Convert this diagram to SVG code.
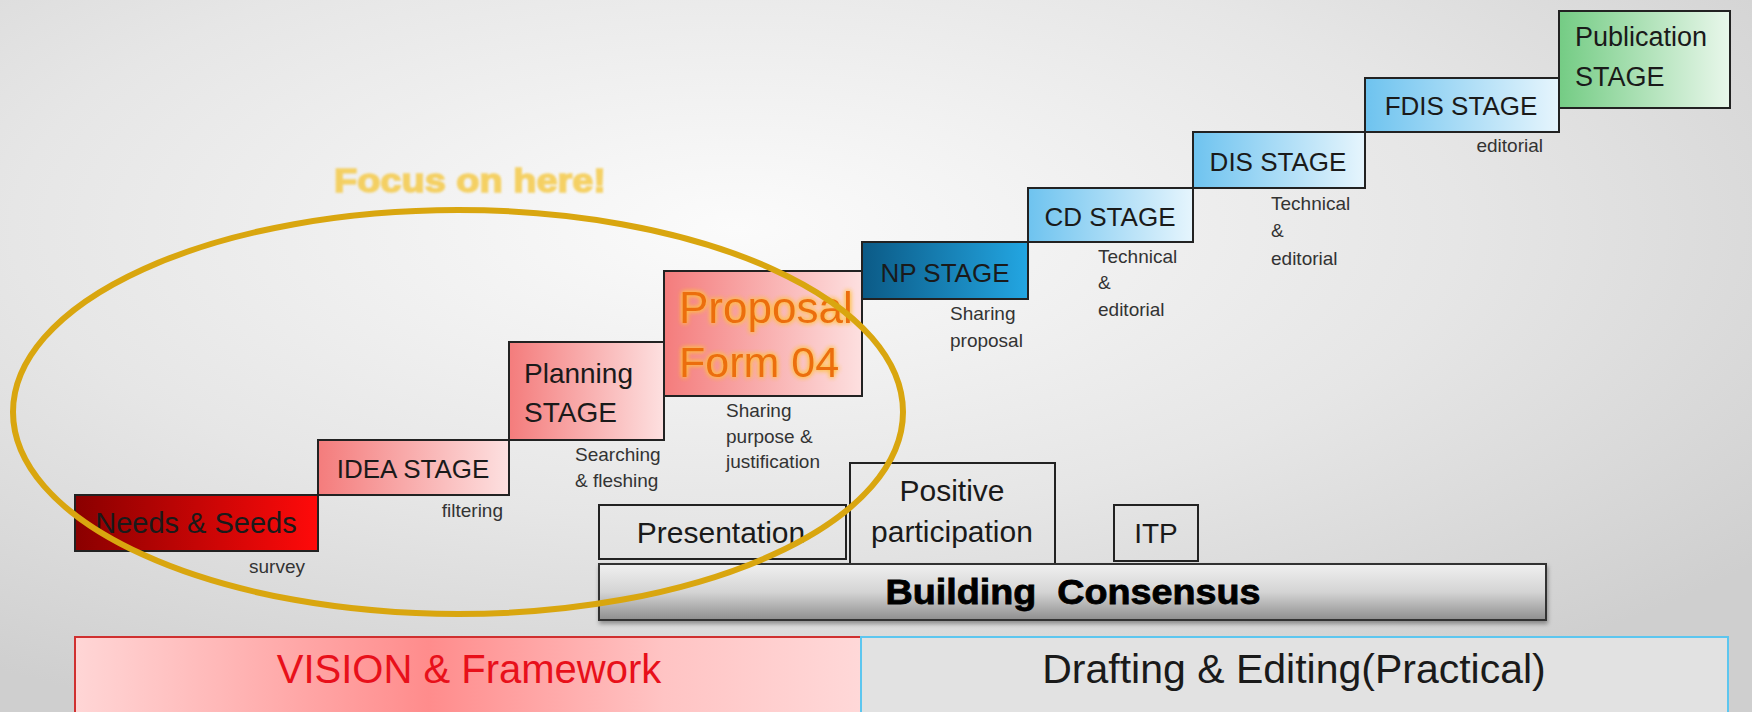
<svg xmlns="http://www.w3.org/2000/svg" width="1752" height="712" viewBox="0 0 1752 712">
<defs>
<radialGradient id="bg" cx="0.42" cy="0.32" r="0.75">
<stop offset="0" stop-color="#fbfbfb"/>
<stop offset="0.55" stop-color="#e6e6e6"/>
<stop offset="1" stop-color="#cfcfcf"/>
</radialGradient>
<linearGradient id="gNeeds" x1="0" y1="0" x2="1" y2="0">
<stop offset="0" stop-color="#8a0000"/>
<stop offset="1" stop-color="#ff0a0a"/>
</linearGradient>
<linearGradient id="gPink" x1="0" y1="0" x2="1" y2="0">
<stop offset="0" stop-color="#f47c7c"/>
<stop offset="1" stop-color="#fde0e0"/>
</linearGradient>
<linearGradient id="gNP" x1="0" y1="0" x2="1" y2="0">
<stop offset="0" stop-color="#0b5a86"/>
<stop offset="1" stop-color="#23a6e2"/>
</linearGradient>
<linearGradient id="gBlue" x1="0" y1="0" x2="1" y2="0">
<stop offset="0" stop-color="#6ec3ef"/>
<stop offset="1" stop-color="#e6f5fd"/>
</linearGradient>
<linearGradient id="gGreen" x1="0" y1="0" x2="1" y2="0">
<stop offset="0" stop-color="#74cc84"/>
<stop offset="1" stop-color="#e9f7eb"/>
</linearGradient>
<linearGradient id="gBuild" x1="0" y1="0" x2="0" y2="1">
<stop offset="0" stop-color="#f0f0f0"/>
<stop offset="0.5" stop-color="#d4d4d4"/>
<stop offset="1" stop-color="#8e8e8e"/>
</linearGradient>
<linearGradient id="gVision" x1="0" y1="0" x2="1" y2="0">
<stop offset="0" stop-color="#ffd6d6"/>
<stop offset="0.45" stop-color="#ff8c8c"/>
<stop offset="0.75" stop-color="#ffc4c4"/>
<stop offset="1" stop-color="#ffd8d8"/>
</linearGradient>
<filter id="glow" x="-10%" y="-20%" width="120%" height="140%">
<feGaussianBlur in="SourceAlpha" stdDeviation="2.5" result="b"/>
<feFlood flood-color="#ffc040"/>
<feComposite in2="b" operator="in" result="g"/>
<feMerge><feMergeNode in="g"/><feMergeNode in="g"/><feMergeNode in="SourceGraphic"/></feMerge>
</filter>
<filter id="soft" x="-5%" y="-20%" width="110%" height="140%">
<feGaussianBlur stdDeviation="1.2"/>
</filter>
<filter id="shadow" x="-2%" y="-10%" width="104%" height="130%">
<feDropShadow dx="1" dy="3" stdDeviation="2" flood-color="#000" flood-opacity="0.35"/>
</filter>
</defs>
<style>
.box{stroke:#222;stroke-width:2}
.plain{fill:none;stroke:#222;stroke-width:2}
.t{font-family:"Liberation Sans",Arial,sans-serif;fill:#1a1a1a}
.s{font-family:"Liberation Sans",Arial,sans-serif;fill:#333;font-size:19px}
</style>
<rect x="0" y="0" width="1752" height="712" fill="url(#bg)"/>

<text x="470" y="192" text-anchor="middle" font-family="Liberation Sans,Arial,sans-serif" font-weight="bold" font-size="34" fill="#f5c840" stroke="#f5c840" stroke-width="1.5" opacity="0.8" textLength="272" lengthAdjust="spacingAndGlyphs" filter="url(#soft)">Focus on here!</text>

<g id="needs">
<rect class="box" x="75" y="495" width="243" height="56" fill="url(#gNeeds)"/>
<text class="t" x="196" y="533" font-size="29" text-anchor="middle" fill="#3a0000">Needs &amp; Seeds</text>
<text class="s" x="305" y="573" text-anchor="end">survey</text>
</g>
<g id="idea">
<rect class="box" x="318" y="440" width="191" height="55" fill="url(#gPink)"/>
<text class="t" x="413" y="478" font-size="26" text-anchor="middle">IDEA STAGE</text>
<text class="s" x="503" y="517" text-anchor="end">filtering</text>
</g>
<g id="planning">
<rect class="box" x="509" y="342" width="155" height="98" fill="url(#gPink)"/>
<text class="t" x="524" y="383" font-size="28">Planning</text>
<text class="t" x="524" y="422" font-size="28">STAGE</text>
<text class="s" x="575" y="461">Searching</text>
<text class="s" x="575" y="487">&amp; fleshing</text>
</g>
<g id="proposal">
<rect class="box" x="664" y="271" width="198" height="125" fill="url(#gPink)"/>
<text x="679" y="323" font-family="Liberation Sans,Arial,sans-serif" font-size="44" fill="#ec6e0c" filter="url(#glow)">Proposal</text>
<text x="679" y="377" font-family="Liberation Sans,Arial,sans-serif" font-size="43" fill="#ec6e0c" filter="url(#glow)">Form 04</text>
<text class="s" x="726" y="417">Sharing</text>
<text class="s" x="726" y="443">purpose &amp;</text>
<text class="s" x="726" y="468">justification</text>
</g>
<g id="np">
<rect class="box" x="862" y="242" width="166" height="57" fill="url(#gNP)"/>
<text class="t" x="945" y="282" font-size="26" text-anchor="middle" fill="#0a2233">NP STAGE</text>
<text class="s" x="950" y="320">Sharing</text>
<text class="s" x="950" y="347">proposal</text>
</g>
<g id="cd">
<rect class="box" x="1028" y="188" width="165" height="54" fill="url(#gBlue)"/>
<text class="t" x="1110" y="226" font-size="26" text-anchor="middle">CD STAGE</text>
<text class="s" x="1098" y="263">Technical</text>
<text class="s" x="1098" y="289">&amp;</text>
<text class="s" x="1098" y="316">editorial</text>
</g>
<g id="dis">
<rect class="box" x="1193" y="132" width="172" height="56" fill="url(#gBlue)"/>
<text class="t" x="1278" y="171" font-size="26" text-anchor="middle">DIS STAGE</text>
<text class="s" x="1271" y="210">Technical</text>
<text class="s" x="1271" y="237">&amp;</text>
<text class="s" x="1271" y="265">editorial</text>
</g>
<g id="fdis">
<rect class="box" x="1365" y="78" width="194" height="54" fill="url(#gBlue)"/>
<text class="t" x="1461" y="115" font-size="26" text-anchor="middle">FDIS STAGE</text>
<text class="s" x="1543" y="152" text-anchor="end">editorial</text>
</g>
<g id="publication">
<rect class="box" x="1559" y="11" width="171" height="97" fill="url(#gGreen)"/>
<text class="t" x="1575" y="46" font-size="27">Publication</text>
<text class="t" x="1575" y="86" font-size="27">STAGE</text>
</g>

<g id="presentation">
<rect class="plain" x="599" y="505" width="247" height="54"/>
<text class="t" x="721" y="543" font-size="30" text-anchor="middle">Presentation</text>
</g>
<g id="positive">
<rect class="plain" x="850" y="463" width="205" height="101"/>
<text class="t" x="952" y="501" font-size="30" text-anchor="middle">Positive</text>
<text class="t" x="952" y="542" font-size="30" text-anchor="middle">participation</text>
</g>
<g id="itp">
<rect class="plain" x="1114" y="505" width="84" height="56"/>
<text class="t" x="1156" y="543" font-size="28" text-anchor="middle">ITP</text>
</g>
<g id="building">
<rect x="599" y="564" width="947" height="56" fill="url(#gBuild)" stroke="#333" stroke-width="2" filter="url(#shadow)"/>
<text x="1073" y="604" text-anchor="middle" font-family="Liberation Sans,Arial,sans-serif" font-weight="bold" font-size="35" fill="#000" stroke="#000" stroke-width="0.8" xml:space="preserve" textLength="375" lengthAdjust="spacingAndGlyphs">Building  Consensus</text>
</g>

<g id="vision">
<rect x="75" y="637" width="786" height="80" fill="url(#gVision)" stroke="#d03030" stroke-width="2"/>
<text x="469" y="683" text-anchor="middle" font-family="Liberation Sans,Arial,sans-serif" font-size="40" fill="#e8101a">VISION &amp; Framework</text>
</g>
<g id="drafting">
<rect x="861" y="637" width="867" height="80" fill="#e2e2e2" stroke="#5cc6ef" stroke-width="2"/>
<text x="1294" y="683" text-anchor="middle" font-family="Liberation Sans,Arial,sans-serif" font-size="41" fill="#1a1a1a">Drafting &amp; Editing(Practical)</text>
</g>

<g id="connectors">
<ellipse cx="458" cy="412" rx="445" ry="202" fill="none" stroke="#d9a60f" stroke-width="6"/>
</g>
</svg>
